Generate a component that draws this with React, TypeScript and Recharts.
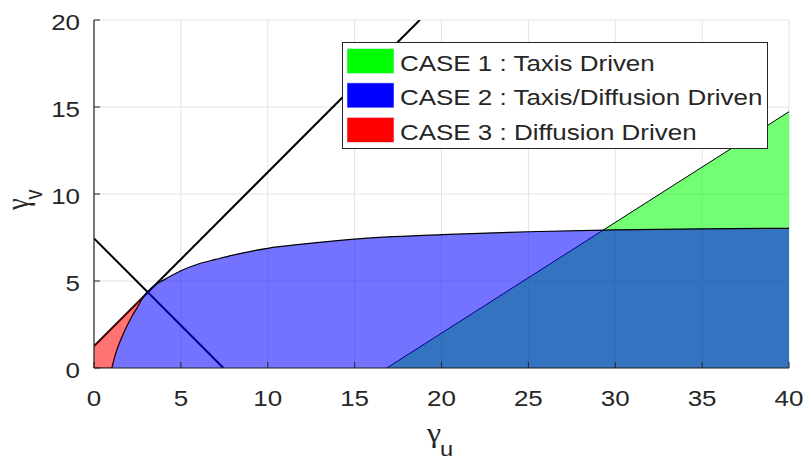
import React from 'react';
import { ComposedChart, Area, XAxis, YAxis, CartesianGrid, Legend, Label } from 'recharts';

// axis ticks
const xTicks = [0, 5, 10, 15, 20, 25, 30, 35, 40];
const yTicks = [0, 5, 10, 15, 20];

// CASE 2 boundary curve (blue region top)
const curveX = [1.02, 1.15, 1.3, 1.7, 2.2, 2.5, 2.85, 3.1, 3.5, 4, 5, 6, 7, 8, 10, 12, 15, 20, 25, 30, 35, 40];
const curveY = [0, 0.5, 1.0, 2.0, 3.0, 3.5, 4.1, 4.4, 4.75, 5.05, 5.59, 5.98, 6.24, 6.49, 6.88, 7.12, 7.41, 7.66, 7.83, 7.94, 8.0, 8.03];

// CASE 3 region (red): between lower and upper bound
const redX = [0, 1.02, 1.15, 1.3, 1.7, 2.2, 2.5, 2.85];
const redLow = [0, 0, 0.5, 1.0, 2.0, 3.0, 3.5, 4.1];
const redHigh = [1.25, 2.27, 2.4, 2.55, 2.95, 3.45, 3.75, 4.1];

// CASE 1 region (green): under slanted line
const greenX = [16.85, 40];
const greenY = [0, 14.73];

// rising straight line
const riseX = [0, 18.75];
const riseY = [1.25, 20];

// falling straight line
const fallX = [0, 7.45];
const fallY = [7.45, 0];

// legend
const legendLabels = ['CASE 1 : Taxis Driven', 'CASE 2 : Taxis/Diffusion Driven', 'CASE 3 : Diffusion Driven'];
const legendColors = ['#00ff00', '#0000ff', '#ff0000'];

const curveData = curveX.map((x, i) => ({ x, y: curveY[i] }));
const redData = redX.map((x, i) => ({ x, range: [redLow[i], redHigh[i]] }));
const greenData = greenX.map((x, i) => ({ x, y: greenY[i] }));
const riseData = riseX.map((x, i) => ({ x, y: riseY[i] }));
const fallData = fallX.map((x, i) => ({ x, y: fallY[i] }));

const AX = '#262626';
const FONT = '"Liberation Sans", Arial, Helvetica, sans-serif';
const GFONT = '"Liberation Serif", "DejaVu Serif", serif';
const SX = 1.18;

const XTick = (props: any) => {
  const { x, y, payload } = props;
  return (
    <g>
      <line x1={x} y1={y} x2={x} y2={y - 6} stroke={AX} strokeWidth={1} />
      <text
        x={0}
        y={0}
        transform={`translate(${x},${y + 38}) scale(${SX},1)`}
        textAnchor="middle"
        fontSize={22}
        fontFamily={FONT}
        fill={AX}
      >
        {payload.value}
      </text>
    </g>
  );
};

const YTick = (props: any) => {
  const { x, y, payload } = props;
  return (
    <g>
      <line x1={x} y1={y} x2={x + 6} y2={y} stroke={AX} strokeWidth={1} />
      <text
        x={0}
        y={0}
        transform={`translate(${x - 14},${y + 10}) scale(${SX},1)`}
        textAnchor="end"
        fontSize={22}
        fontFamily={FONT}
        fill={AX}
      >
        {payload.value}
      </text>
    </g>
  );
};

const XLabel = () => (
  <text x={0} y={0} transform={`translate(427,442) scale(${SX},1)`} textAnchor="start" fill={AX}>
    <tspan fontFamily={GFONT} fontSize={27}>γ</tspan>
    <tspan dy={14} dx={-1} fontFamily={FONT} fontSize={20}>u</tspan>
  </text>
);

const YLabel = () => (
  <text x={0} y={0} transform={`translate(28,210) scale(${SX},1) rotate(-90)`} textAnchor="start" fill={AX}>
    <tspan fontFamily={GFONT} fontSize={26}>γ</tspan>
    <tspan dy={12} dx={-1} fontFamily={FONT} fontSize={20}>v</tspan>
  </text>
);

const LegendBox = () => (
  <svg width={426} height={107} style={{ display: 'block' }}>
    <rect x={0.5} y={0.5} width={425} height={106} fill="#fff" stroke={AX} strokeWidth={1} />
    {legendLabels.map((lab, i) => (
      <g key={lab}>
        <rect x={5} y={6.5 + i * 34.4} width={47} height={25} fill={legendColors[i]} stroke="#e8e8ff" strokeWidth={0.6} />
        <text
          x={0}
          y={0}
          transform={`translate(58,${29 + i * 34.4}) scale(${SX},1)`}
          fontSize={22}
          fontFamily={FONT}
          fill={AX}
        >
          {lab}
        </text>
      </g>
    ))}
  </svg>
);

export default function App() {
  return (
    <div style={{ position: 'absolute', left: 0, top: 0, background: '#fff' }}>
      <ComposedChart width={805} height={462} margin={{ top: 20, right: 16, bottom: 0, left: 0 }}>
        <CartesianGrid stroke="#e2e2e2" strokeWidth={1} />
        <XAxis
          dataKey="x"
          type="number"
          domain={[0, 40]}
          ticks={xTicks}
          interval={0}
          allowDataOverflow
          height={94}
          tickSize={0}
          tickMargin={0}
          tickLine={false}
          tick={<XTick />}
          axisLine={{ stroke: AX, strokeWidth: 1.2 }}
          label={<Label content={<XLabel />} />}
        />
        <YAxis
          type="number"
          domain={[0, 20]}
          ticks={yTicks}
          interval={0}
          allowDataOverflow
          width={94}
          tickSize={0}
          tickMargin={0}
          tickLine={false}
          tick={<YTick />}
          axisLine={{ stroke: AX, strokeWidth: 1.2 }}
          label={<Label content={<YLabel />} />}
        />
        <Area data={riseData} dataKey="y" type="linear" stroke="#000" strokeWidth={2} fill="none" dot={false} activeDot={false} isAnimationActive={false} />
        <Area data={fallData} dataKey="y" type="linear" stroke="#000" strokeWidth={2} fill="none" dot={false} activeDot={false} isAnimationActive={false} />
        <Area data={greenData} dataKey="y" type="linear" stroke="#000" strokeWidth={1} fill="#00ff00" fillOpacity={0.55} dot={false} activeDot={false} isAnimationActive={false} />
        <Area data={curveData} dataKey="y" type="monotone" stroke="#000" strokeWidth={1.2} fill="#0000ff" fillOpacity={0.55} dot={false} activeDot={false} isAnimationActive={false} />
        <Area data={redData} dataKey="range" type="monotone" stroke="#300" strokeWidth={0.8} fill="#ff0000" fillOpacity={0.55} dot={false} activeDot={false} isAnimationActive={false} />
        <Legend
          layout="horizontal"
          verticalAlign="middle"
          align="center"
          wrapperStyle={{ left: 342, top: 42, width: 426, height: 107 }}
          content={<LegendBox />}
        />
      </ComposedChart>
    </div>
  );
}
